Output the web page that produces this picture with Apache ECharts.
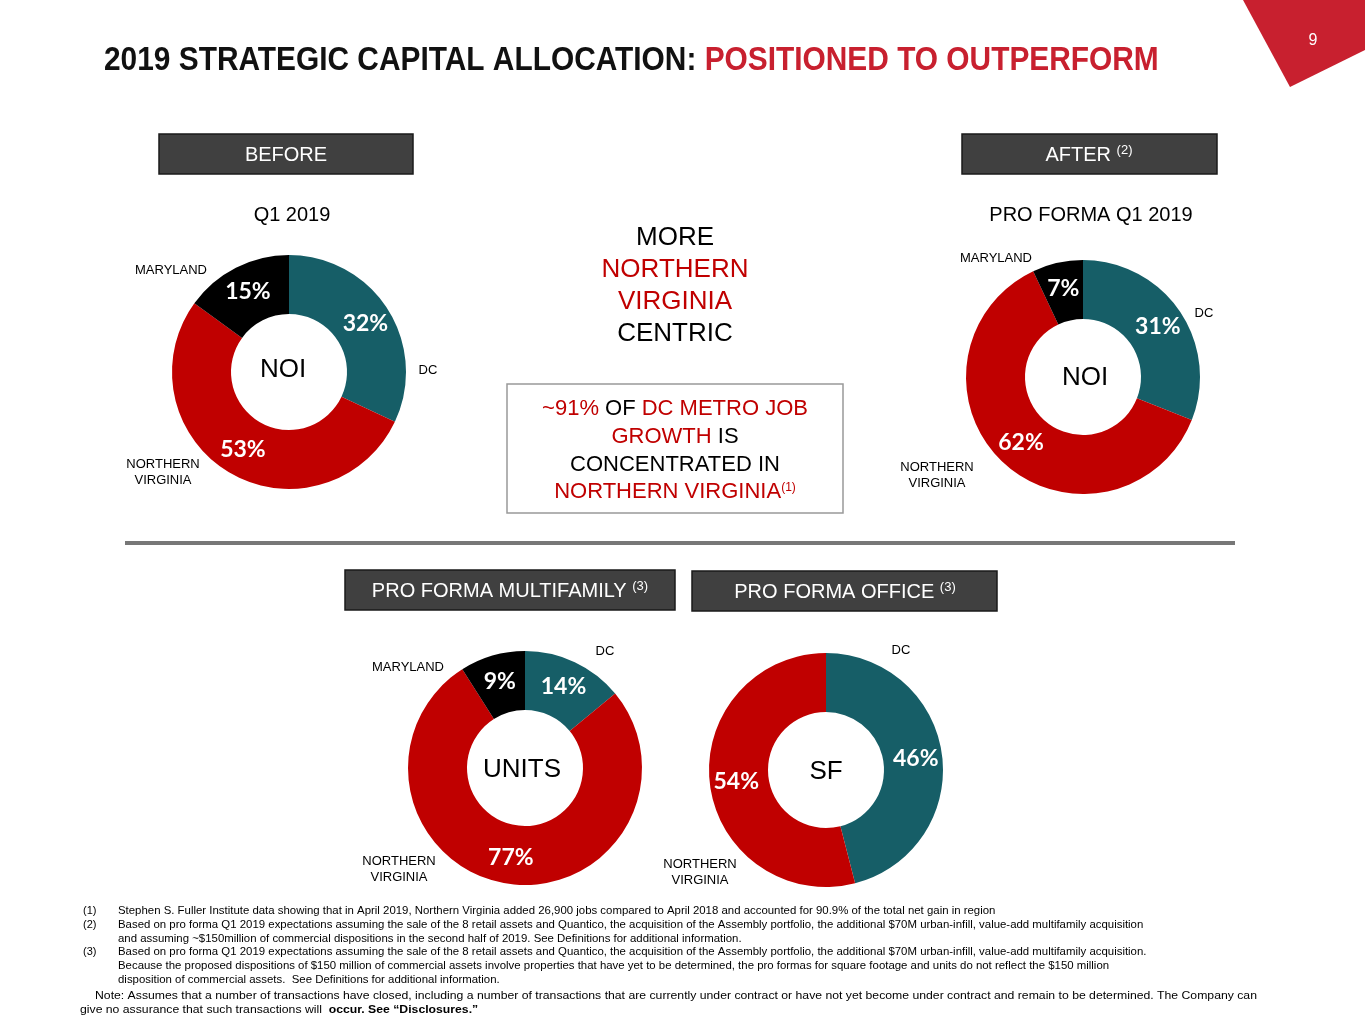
<!DOCTYPE html>
<html><head><meta charset="utf-8">
<script src="https://cdn.jsdelivr.net/npm/echarts@6/dist/echarts.min.js"></script>
<style>html,body{margin:0;padding:0;background:#fff}#c{width:1365px;height:1024px}</style>
</head><body><div id="c"></div>
<script>
// ---- data ----
const regions = ['DC', 'NORTHERN VIRGINIA', 'MARYLAND'];
const beforeNOI = [32, 53, 15];          // Q1 2019 NOI share
const afterNOI = [31, 62, 7];            // Pro forma Q1 2019 NOI share
const multifamilyUnits = [14, 77, 9];    // Pro forma multifamily units
const officeRegions = ['DC', 'NORTHERN VIRGINIA'];
const officeSF = [46, 54];               // Pro forma office SF
const centerLabels = ['NOI', 'NOI', 'UNITS', 'SF'];

const RED = '#C00000', TEAL = '#165E67', BLACK = '#000000', TITLE_RED = '#C8202F';
const regionColor = {'DC': TEAL, 'NORTHERN VIRGINIA': RED, 'MARYLAND': BLACK};
const FONT = "'Liberation Sans', Arial, sans-serif";
const PCT_FONT = "Lato, 'Open Sans', sans-serif";

function pie(names, vals, cx, cy) {
  return {
    type: 'pie', center: [cx, cy], radius: [58, 117], startAngle: 90, clockwise: true,
    animation: false, silent: true, avoidLabelOverlap: false,
    label: {show: true, position: 'inside', formatter: '{c}%', color: '#fff',
            fontFamily: PCT_FONT, fontWeight: 'bold', fontSize: 23},
    labelLine: {show: false},
    itemStyle: {borderWidth: 0},
    data: names.map((n, i) => ({name: n, value: vals[i], itemStyle: {color: regionColor[n]}}))
  };
}

function txt(t, x, y, size, color, opts) {
  opts = opts || {};
  const st = {text: t, x: 0, y: 0, font: (opts.bold ? 'bold ' : '') + size + 'px ' + (opts.family || FONT),
      fill: color, align: opts.align || 'center', verticalAlign: 'middle',
      textAlign: opts.align || 'center', textVerticalAlign: 'middle', rich: opts.rich};
  if (opts.lh) st.lineHeight = opts.lh;
  return {type: 'text', x: x, y: y, scaleX: opts.sx || 1, z: 10, style: st};
}
function box(x, y, w, h) {
  return {type: 'rect', shape: {x: x, y: y, width: w, height: h},
    style: {fill: '#404040', stroke: '#1a1a1a', lineWidth: 1.5}, z: 5};
}
const supRich = {s: {fontSize: 13, fill: '#fff', padding: [0, 0, 9, 0], fontFamily: FONT}};
const NV = 'NORTHERN\nVIRGINIA';

const graphics = [
  // page number corner
  {type: 'polygon', shape: {points: [[1243, 0], [1365, 0], [1365, 50], [1290, 87]]}, style: {fill: TITLE_RED}},
  txt('9', 1313, 41, 16, '#fff'),
  // title
  txt('{b|2019 STRATEGIC CAPITAL ALLOCATION: }{r|POSITIONED TO OUTPERFORM}', 104, 61, 33, '#111',
      {bold: true, align: 'left', sx: 0.905,
       rich: {b: {fill: '#111', font: 'bold 33px ' + FONT}, r: {fill: TITLE_RED, font: 'bold 33px ' + FONT}}}),
  // header boxes
  box(159, 134, 254, 40), txt('BEFORE', 286, 155, 20, '#fff'),
  box(962, 134, 255, 40),
  txt('{t|AFTER }{s|(2)}', 1089, 155, 20, '#fff', {rich: Object.assign({t: {fontSize: 20, fill: '#fff', fontFamily: FONT}}, supRich)}),
  txt('Q1 2019', 292, 215, 20, '#000'),
  txt('PRO FORMA Q1 2019', 1091, 215, 20, '#000'),
  // center message
  txt('MORE', 675, 238, 26, '#000'),
  txt('NORTHERN', 675, 270, 26, RED),
  txt('VIRGINIA', 675, 302, 26, RED),
  txt('CENTRIC', 675, 334, 26, '#000'),
  {type: 'rect', shape: {x: 507, y: 384, width: 336, height: 129}, style: {fill: 'none', stroke: '#999', lineWidth: 1.5}},
  txt('{r|~91%} OF {r|DC METRO JOB}', 675, 409, 22, '#000', {rich: {r: {fill: RED, fontSize: 22, fontFamily: FONT}}}),
  txt('{r|GROWTH} IS', 675, 437, 22, '#000', {rich: {r: {fill: RED, fontSize: 22, fontFamily: FONT}}}),
  txt('CONCENTRATED IN', 675, 465, 22, '#000'),
  txt('{r|NORTHERN VIRGINIA}{s|(1)}', 675, 492, 22, RED,
      {rich: {r: {fill: RED, fontSize: 22, fontFamily: FONT}, s: {fontSize: 12, fill: RED, padding: [0, 0, 9, 0], fontFamily: FONT}}}),
  // divider
  {type: 'rect', shape: {x: 125, y: 541, width: 1110, height: 4}, style: {fill: '#777'}},
  // bottom boxes
  box(345, 570, 330, 40),
  txt('{t|PRO FORMA MULTIFAMILY }{s|(3)}', 510, 591, 20, '#fff', {rich: Object.assign({t: {fontSize: 20, fill: '#fff', fontFamily: FONT}}, supRich)}),
  box(692, 571, 305, 40),
  txt('{t|PRO FORMA OFFICE }{s|(3)}', 845, 592, 20, '#fff', {rich: Object.assign({t: {fontSize: 20, fill: '#fff', fontFamily: FONT}}, supRich)}),
  // center labels
  txt(centerLabels[0], 283, 370, 26, '#000'),
  txt(centerLabels[1], 1085, 378, 26, '#000'),
  txt(centerLabels[2], 522, 770, 26, '#000'),
  txt(centerLabels[3], 826, 772, 26, '#000'),
  // outer category labels
  txt(regions[2], 171, 270, 13, '#000'),
  txt(regions[0], 428, 370, 13, '#000'),
  txt(NV, 163, 472, 13, '#000', {lh: 16}),
  txt(regions[2], 996, 258, 13, '#000'),
  txt(regions[0], 1204, 313, 13, '#000'),
  txt(NV, 937, 475, 13, '#000', {lh: 16}),
  txt(regions[0], 605, 651, 13, '#000'),
  txt(regions[2], 408, 667, 13, '#000'),
  txt(NV, 399, 869, 13, '#000', {lh: 16}),
  txt(officeRegions[0], 901, 650, 13, '#000'),
  txt(NV, 700, 872, 13, '#000', {lh: 16}),
];

// footnotes
const fnNums = ['(1)', '(2)', '', '(3)', '', ''];
const fnLines = [
  'Stephen S. Fuller Institute data showing that in April 2019, Northern Virginia added 26,900 jobs compared to April 2018 and accounted for 90.9% of the total net gain in region',
  'Based on pro forma Q1 2019 expectations assuming the sale of the 8 retail assets and Quantico, the acquisition of the Assembly portfolio, the additional $70M urban-infill, value-add multifamily acquisition',
  'and assuming ~$150million of commercial dispositions in the second half of 2019. See Definitions for additional information.',
  'Based on pro forma Q1 2019 expectations assuming the sale of the 8 retail assets and Quantico, the acquisition of the Assembly portfolio, the additional $70M urban-infill, value-add multifamily acquisition.',
  'Because the proposed dispositions of $150 million of commercial assets involve properties that have yet to be determined, the pro formas for square footage and units do not reflect the $150 million',
  'disposition of commercial assets.  See Definitions for additional information.'
];
fnLines.forEach((l, i) => {
  const y = 911 + i * 13.8;
  if (fnNums[i]) graphics.push(txt(fnNums[i], 83, y, 11, '#000', {align: 'left'}));
  graphics.push(txt(l, 118, y, 11, '#000', {align: 'left', sx: 1.037}));
});
graphics.push(txt('Note: Assumes that a number of transactions have closed, including a number of transactions that are currently under contract or have not yet become under contract and remain to be determined. The Company can', 95, 996, 11.5, '#000', {align: 'left', sx: 1.063}));
graphics.push(txt('give no assurance that such transactions will  {b|occur. See \u201cDisclosures.\u201d}', 80, 1010, 11.5, '#000',
  {align: 'left', sx: 1.063, rich: {b: {fontWeight: 'bold', fontSize: 11.5, fill: '#000', fontFamily: FONT}}}));

const chart = echarts.init(document.getElementById('c'), null, {renderer: 'canvas'});
chart.setOption({
  backgroundColor: '#fff',
  animation: false,
  series: [
    pie(regions, beforeNOI, 289, 372),
    pie(regions, afterNOI, 1083, 377),
    pie(regions, multifamilyUnits, 525, 768),
    pie(officeRegions, officeSF, 826, 770)
  ],
  graphic: {elements: graphics}
});
</script></body></html>
